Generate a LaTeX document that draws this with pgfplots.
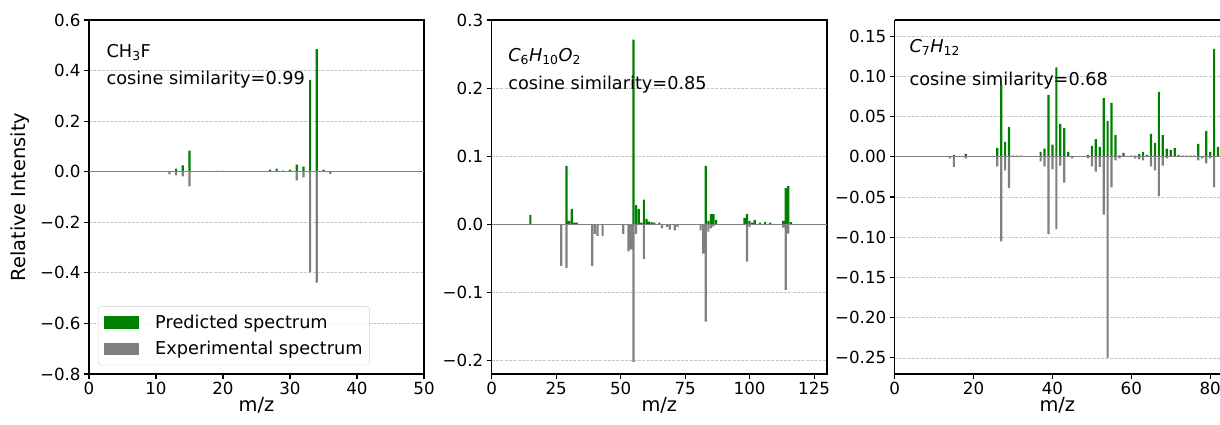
\documentclass[border=0pt]{standalone}
\usepackage{pgfplots}
\pgfplotsset{compat=1.18}
\usepackage{fontspec}
\setmainfont{DejaVu Sans}
\definecolor{mplgreen}{HTML}{008000}
\definecolor{mplgray}{HTML}{808080}
\definecolor{gridc}{HTML}{B0B0B0}
\newcommand\tickfont{\fontsize{16.7}{20}\selectfont}
\newcommand\labfont{\fontsize{19.4}{23}\selectfont}
\newcommand\txtfont{\fontsize{17.7}{21}\selectfont}
\pgfplotsset{
  spec/.style={
    scale only axis, height=354pt,
    ymajorgrids,
    grid style={dash pattern=on 3pt off 1.3pt, gridc, line width=0.8pt, opacity=0.7},
    tick align=outside, xtick pos=left, ytick pos=left,
    major tick length=4.9pt,
    tick style={black, line width=1.1pt},
    axis line style={black, line width=1.1pt},
    tick label style={font=\tickfont, text=black},
    /pgf/number format/assume math mode=true,
    xlabel={m/z},
    xlabel style={font=\labfont, at={(axis description cs:0.5,0)}, anchor=center, yshift=-31pt},
    ylabel style={font=\labfont},
  },
  pred/.style={ybar, bar width=2.2pt, bar shift=0pt, fill=mplgreen, draw=none,
    legend image code/.code={\fill[mplgreen, fill opacity=1, sharp corners] (0pt,-6.3pt) rectangle (35pt,6.3pt);}},
  expt/.style={ybar, bar width=2.2pt, bar shift=0pt, fill=mplgray, draw=none,
    legend image code/.code={\fill[mplgray, fill opacity=1, sharp corners] (0pt,-6.3pt) rectangle (35pt,6.3pt);}},
}
\begin{document}
\begin{tikzpicture}
\path[use as bounding box] (0pt,0pt) rectangle (1220pt,424pt);
% ---------------- Panel 1 ----------------
\begin{axis}[spec, at={(89pt,50pt)}, anchor=south west, width=335pt,
  xmin=0, xmax=50, ymin=-0.8, ymax=0.6,
  xtick={0,10,20,30,40,50}, xticklabels={0,10,20,30,40,50},
  ytick={-0.8,-0.6,-0.4,-0.2,0,0.2,0.4,0.6},
  yticklabels={−0.8,−0.6,−0.4,−0.2,0.0,0.2,0.4,0.6},
  ylabel={Relative Intensity},
  ylabel style={at={(axis description cs:-0.206,0.5)}, anchor=center, rotate=0},
  legend style={at={(axis description cs:0.027,0.025)}, anchor=south west,
    draw=black!20, rounded corners=3pt, fill=white, fill opacity=0.8, text opacity=1,
    font=\txtfont, inner xsep=6pt, inner ysep=7.5pt, row sep=9.5pt,
    nodes={inner sep=1pt},
    /tikz/every odd column/.append style={column sep=15pt}},
  legend cell align=left,
]
\addplot[pred] coordinates {(13,0.012) (14,0.025) (15,0.083) (17,0.003) (19,0.003) (20,0.003)
  (27,0.008) (28,0.012) (29,0.004) (30,0.008) (31,0.028) (32,0.020) (33,0.363) (34,0.485) (35,0.008)};
\addlegendentry{Predicted spectrum}
\addplot[expt] coordinates {(12,-0.0105) (13,-0.014) (14,-0.018) (15,-0.058)
  (31,-0.034) (32,-0.022) (33,-0.397) (34,-0.439) (36,-0.010)};
\addlegendentry{Experimental spectrum}
\addplot[forget plot, mplgray, line width=1.4pt] coordinates {(0,0) (50,0)};
\node[anchor=base west, font=\txtfont] at (axis description cs:0.042,0.8935) {CH\textsubscript{3}F};
\node[anchor=base west, font=\txtfont] at (axis description cs:0.042,0.819) {cosine similarity=0.99};
\end{axis}
% ---------------- Panel 2 ----------------
\begin{axis}[spec, at={(491.7pt,50pt)}, anchor=south west, width=335.3pt,
  xmin=0, xmax=130, ymin=-0.22, ymax=0.3,
  xtick={0,25,50,75,100,125}, xticklabels={0,25,50,75,100,125},
  ytick={-0.2,-0.1,0,0.1,0.2,0.3},
  yticklabels={−0.2,−0.1,0.0,0.1,0.2,0.3},
]
\addplot[pred] coordinates {(15,0.0137) (29,0.0857) (30,0.005) (31,0.0225) (32,0.0025) (33,0.0025)
  (55,0.271) (56,0.028) (57,0.0225) (58,0.0025) (59,0.036) (60,0.008) (61,0.004) (62,0.003)
  (63,0.0025) (65,0.0025) (83,0.0857) (84,0.005) (85,0.015) (86,0.015) (87,0.0064)
  (98,0.0093) (99,0.0152) (100,0.005) (101,0.0025) (102,0.0064) (104,0.0025) (106,0.003)
  (108,0.0025) (113,0.005) (114,0.053) (115,0.056) (116,0.003)};
\addplot[expt] coordinates {(27,-0.061) (29,-0.064) (39,-0.061) (40,-0.014) (41,-0.017) (43,-0.017)
  (51,-0.014) (53,-0.040) (54,-0.037) (55,-0.202) (56,-0.014) (59,-0.051) (66,-0.006)
  (68,-0.004) (69,-0.008) (71,-0.009) (72,-0.004) (81,-0.009) (82,-0.043) (83,-0.143)
  (84,-0.011) (85,-0.006) (86,-0.003) (99,-0.055) (100,-0.0044) (113,-0.005) (114,-0.0966)
  (115,-0.0137)};
\addplot[forget plot, mplgray, line width=1.4pt] coordinates {(0,0) (130,0)};
\node[anchor=base west, font=\txtfont] at (axis description cs:0.039,0.884)
  {\itshape C\textsubscript{\upshape 6}H\textsubscript{\upshape 10}O\textsubscript{\upshape 2}};
\node[anchor=base west, font=\txtfont] at (axis description cs:0.039,0.805) {cosine similarity=0.85};
\end{axis}
% ---------------- Panel 3 ----------------
\begin{axis}[spec, at={(894.7pt,50pt)}, anchor=south west, width=325.3pt,
  axis x line=box, axis y line*=left,
  xlabel style={font=\labfont, at={(axis description cs:0.5,0)}, anchor=center, yshift=-31pt},
  every axis x label/.append style={font=\labfont},
  xmin=0, xmax=82.5, ymin=-0.27, ymax=0.17,
  xtick={0,20,40,60,80}, xticklabels={0,20,40,60,80},
  ytick={-0.25,-0.2,-0.15,-0.1,-0.05,0,0.05,0.1,0.15},
  yticklabels={−0.25,−0.20,−0.15,−0.10,−0.05,0.00,0.05,0.10,0.15},
]
\addplot[pred] coordinates {(15,0.0025) (18,0.0037) (25,0.0012) (26,0.011) (27,0.089) (28,0.0186)
  (29,0.037) (30,0.0015) (31,0.0015) (32,0.0015) (37,0.006) (38,0.010) (39,0.077) (40,0.015)
  (41,0.111) (42,0.041) (43,0.036) (44,0.006) (45,0.001) (49,0.0025) (50,0.0136) (51,0.022)
  (52,0.0124) (53,0.073) (54,0.0447) (55,0.067) (56,0.027) (57,0.0017) (58,0.005) (60,0.0015)
  (61,0.0015) (62,0.0037) (63,0.006) (64,0.0025) (65,0.0285) (66,0.0174) (67,0.0806) (68,0.027)
  (69,0.010) (70,0.0087) (71,0.011) (72,0.0025) (73,0.0015) (74,0.0015) (75,0.0015) (76,0.0015)
  (77,0.016) (79,0.032) (80,0.006) (81,0.134) (82,0.0124)};
\addplot[expt] coordinates {(14,-0.002) (15,-0.0124) (18,-0.002) (26,-0.012) (27,-0.105) (28,-0.017)
  (29,-0.039) (37,-0.0058) (38,-0.012) (39,-0.096) (40,-0.0157) (41,-0.090) (42,-0.011)
  (43,-0.032) (45,-0.002) (49,-0.002) (50,-0.012) (51,-0.0186) (52,-0.0124) (53,-0.072)
  (54,-0.2498) (55,-0.038) (56,-0.0045) (57,-0.002) (61,-0.002) (62,-0.0033) (63,-0.0045)
  (65,-0.012) (66,-0.017) (67,-0.049) (68,-0.011) (69,-0.002) (77,-0.0045) (78,-0.002)
  (79,-0.0083) (80,-0.002) (81,-0.038)};
\addplot[forget plot, mplgray, line width=1.4pt] coordinates {(0,0) (82.5,0)};
\node[anchor=base west, font=\txtfont] at (axis description cs:0.035,0.908)
  {\itshape C\textsubscript{\upshape 7}H\textsubscript{\upshape 12}};
\node[anchor=base west, font=\txtfont] at (axis description cs:0.035,0.816) {cosine similarity=0.68};
\end{axis}
\end{tikzpicture}
\end{document}
